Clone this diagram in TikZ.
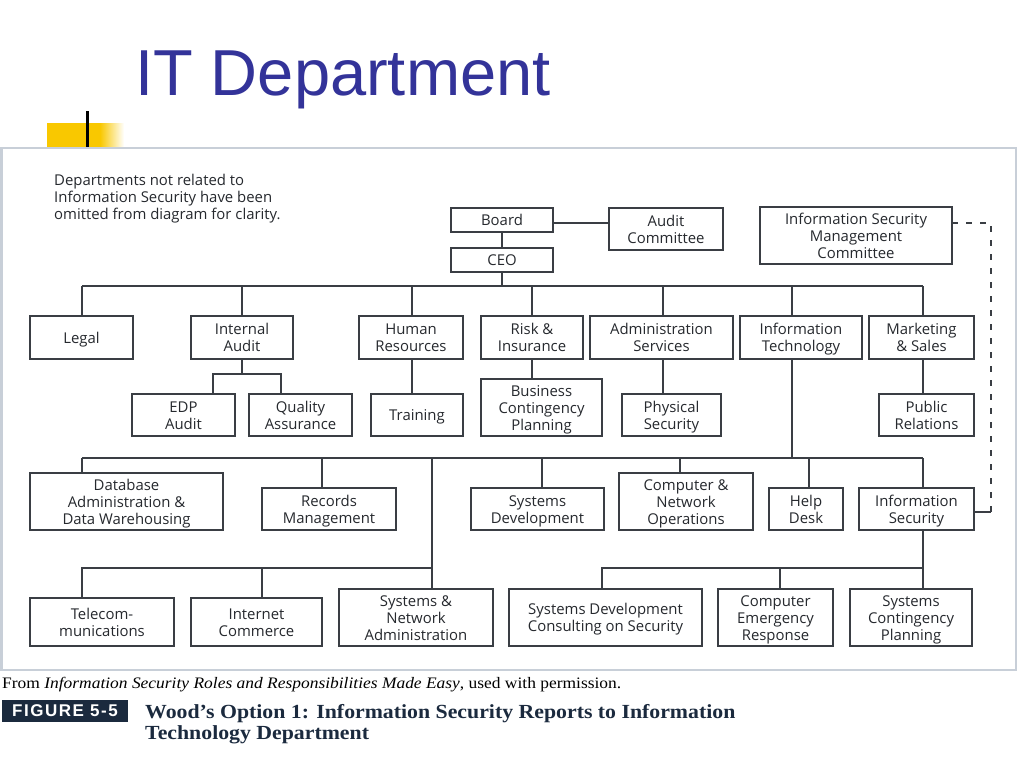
\documentclass[tikz,border=0pt]{standalone}
\usepackage{fontspec}
\setmainfont{Liberation Serif}
\newfontfamily\boxfont{Open Sans}
\newfontfamily\titlefont{Liberation Sans}
\newfontfamily\figfont[LetterSpace=9]{Liberation Sans}
\newfontfamily\capfont[FakeStretch=1.09]{Liberation Serif}
\usetikzlibrary{calc}
\definecolor{linec}{HTML}{3A3E44}
\definecolor{txtc}{HTML}{26292E}
\definecolor{framec}{HTML}{C8CFD8}
\definecolor{titlec}{HTML}{333399}
\definecolor{navy}{HTML}{1B2A3E}
\definecolor{goldc}{HTML}{F9C800}
\tikzset{
  obox/.style={draw=linec, line width=1.2pt, fill=white, align=center,
    inner sep=0pt, outer sep=0pt, text=txtc,
    font=\boxfont\fontsize{14.9}{17}\selectfont},
  conn/.style={draw=linec, line width=1.2pt},
  dashconn/.style={draw=linec, line width=1.2pt, dash pattern=on 6pt off 8pt}
}
\newcommand{\orgbox}[6]{%
  \node[obox, minimum width={(#4-#2)*1pt}, minimum height={(#5-#3)*1pt}]
    (#1) at ({(#2+#4)/2},{(#3+#5)/2}) {\rule{0pt}{15.7pt}#6\rule[-4pt]{0pt}{4pt}};}
\begin{document}
\begin{tikzpicture}[x=1pt,y=-1pt]
\useasboundingbox (0,0) rectangle (1024,768);
\fill[white] (0,0) rectangle (1024,768);

% title and decoration
\node[anchor=base west, text=titlec, inner sep=0pt,
  font=\titlefont\fontsize{65}{70}\selectfont] (title) at (135,95) {IT Department};
\fill[goldc] (47,123) rectangle (100,148);
\shade[left color=goldc, right color=white] (100,123) rectangle (124,148);
\fill[black] (85.5,111) rectangle (88.5,147);

% frame
\draw[framec, line width=2.5pt, fill=white] (1.5,148) rectangle (1016,670);

% note
\node[anchor=north west, align=left, inner sep=0pt, text=txtc,
  font=\boxfont\fontsize{14.9}{17}\selectfont] (note) at (54,174)
  {Departments not related to\\Information Security have been\\omitted from diagram for clarity.};

% boxes
\orgbox{board}{451}{208}{553}{232}{Board}
\orgbox{audit}{609}{208}{723}{250}{Audit\\Committee}
\orgbox{ceo}{451}{248}{553}{272}{CEO}
\orgbox{ismc}{760}{207}{952}{264}{Information Security\\Management\\Committee}

\orgbox{legal}{30}{316}{133}{359}{Legal}
\orgbox{ia}{191}{316}{293}{359}{Internal\\Audit}
\orgbox{hr}{359}{316}{463}{359}{Human\\Resources}
\orgbox{risk}{481}{316}{583}{359}{Risk \&\\Insurance}
\orgbox{admin}{590}{316}{733}{359}{Administration\\Services}
\orgbox{it}{740}{316}{862}{359}{Information\\Technology}
\orgbox{mkt}{869}{316}{974}{359}{Marketing\\\& Sales}

\orgbox{edp}{132}{394}{235}{436}{EDP\\Audit}
\orgbox{qa}{249}{394}{352}{436}{Quality\\Assurance}
\orgbox{training}{371}{394}{463}{436}{Training}
\orgbox{bcp}{481}{379}{602}{436}{Business\\Contingency\\Planning}
\orgbox{phys}{622}{394}{721}{436}{Physical\\Security}
\orgbox{pr}{879}{394}{974}{436}{Public\\Relations}

\orgbox{db}{30}{473}{223}{530}{Database\\Administration \&\\Data Warehousing}
\orgbox{rm}{262}{488}{396}{530}{Records\\Management}
\orgbox{sd}{471}{488}{604}{530}{Systems\\Development}
\orgbox{cno}{619}{473}{753}{530}{Computer \&\\Network\\Operations}
\orgbox{hd}{769}{488}{843}{530}{Help\\Desk}
\orgbox{is}{859}{488}{974}{530}{Information\\Security}

\orgbox{tel}{30}{598}{174}{646}{Telecom-\\munications}
\orgbox{ic}{191}{598}{322}{646}{Internet\\Commerce}
\orgbox{sna}{339}{589}{493}{646}{Systems \&\\Network\\Administration}
\orgbox{sdcs}{509}{589}{702}{646}{Systems Development\\Consulting on Security}
\orgbox{cer}{718}{589}{833}{646}{Computer\\Emergency\\Response}
\orgbox{scp}{850}{589}{972}{646}{Systems\\Contingency\\Planning}

% bus coordinates
\coordinate (b1) at (502,286);
\coordinate (b2) at (242,374);
\coordinate (b4) at (792,458);
\coordinate (b5) at (432,568);
\coordinate (b6) at (923,568);

% top
\draw[conn] (board.south) -- (ceo.north);
\draw[conn] ([yshift=-3pt]board.east) -- ([yshift=-3pt]board.east -| audit.west);
\draw[conn] (ceo.south) -- (ceo.south |- b1);

% row 2 drops
\coordinate (legalT) at ([xshift=52pt]legal.north west);
\coordinate (iaT) at ([xshift=51pt]ia.north west);
\coordinate (hrT) at ([xshift=53pt]hr.north west);
\coordinate (riskT) at ([xshift=51pt]risk.north west);
\coordinate (adminT) at ([xshift=73pt]admin.north west);
\coordinate (itT) at ([xshift=52pt]it.north west);
\coordinate (mktT) at ([xshift=54pt]mkt.north west);
\draw[conn] (legalT |- b1) -- (mktT |- b1);
\foreach \n in {legalT,iaT,hrT,riskT,adminT,itT,mktT}
  \draw[conn] (\n) -- (\n |- b1);

% row 3 links
\coordinate (iaB) at ([xshift=51pt]ia.south west);
\coordinate (edpT) at ([xshift=81pt]edp.north west);
\coordinate (qaT) at ([xshift=32pt]qa.north west);
\draw[conn] (iaB) -- (iaB |- b2);
\draw[conn] (edpT) -- (edpT |- b2) -- (qaT |- b2) -- (qaT);
\draw[conn] ([xshift=53pt]hr.south west) -- ([xshift=41pt]training.north west);
\draw[conn] ([xshift=51pt]risk.south west) -- ([xshift=51pt]bcp.north west);
\draw[conn] ([xshift=73pt]admin.south west) -- ([xshift=41pt]phys.north west);
\draw[conn] ([xshift=54pt]mkt.south west) -- ([xshift=44pt]pr.north west);

% row 4
\coordinate (itB) at ([xshift=52pt]it.south west);
\draw[conn] (itB) -- (itB |- b4);
\coordinate (dbT) at ([xshift=52pt]db.north west);
\coordinate (rmT) at ([xshift=60pt]rm.north west);
\coordinate (sdT) at ([xshift=71pt]sd.north west);
\coordinate (cnoT) at ([xshift=61pt]cno.north west);
\coordinate (hdT) at ([xshift=40pt]hd.north west);
\coordinate (isT) at ([xshift=64pt]is.north west);
\coordinate (snaT) at ([xshift=93pt]sna.north west);
\draw[conn] (dbT |- b4) -- (isT |- b4);
\foreach \n in {dbT,rmT,sdT,cnoT,hdT,isT}
  \draw[conn] (\n) -- (\n |- b4);
\draw[conn] (snaT |- b4) -- (snaT);

% row 5 left
\coordinate (telT) at ([xshift=52pt]tel.north west);
\coordinate (icT) at ([xshift=71pt]ic.north west);
\draw[conn] (telT) -- (telT |- b5) -- (b5);
\draw[conn] (icT) -- (icT |- b5);

% row 5 right
\coordinate (isB) at ([xshift=64pt]is.south west);
\coordinate (sdcsT) at ([xshift=93pt]sdcs.north west);
\coordinate (cerT) at ([xshift=62pt]cer.north west);
\coordinate (scpT) at ([xshift=73pt]scp.north west);
\draw[conn] (isB) -- (scpT);
\draw[conn] (sdcsT) -- (sdcsT |- b6) -- (b6);
\draw[conn] (cerT) -- (cerT |- b6);

% dashed link
\coordinate (dc) at (991,223);
\coordinate (isE) at ([yshift=-3pt]is.east);
\draw[dashconn] ([yshift=12.5pt]ismc.east) -- (dc) -- (dc |- isE);
\draw[conn] (isE) -- (isE -| dc);

% captions
\node[anchor=base west, inner sep=0pt, text=black,
  font=\capfont\fontsize{16}{18}\selectfont] (src) at (2,688)
  {From \textit{Information Security Roles and Responsibilities Made Easy}, used with permission.};
\node[fill=navy, text=white, inner sep=0pt, minimum width=126pt, minimum height=22pt,
  font=\figfont\bfseries\fontsize{17}{18}\selectfont] (fig) at (65,711) {FIGURE 5-5};
\node[anchor=north west, align=left, inner sep=0pt, text=navy,
  font=\capfont\bfseries\fontsize{20}{21}\selectfont] (cap) at (145,704.5)
  {Wood’s Option 1: Information Security Reports to Information\\Technology Department};
\end{tikzpicture}
\end{document}
